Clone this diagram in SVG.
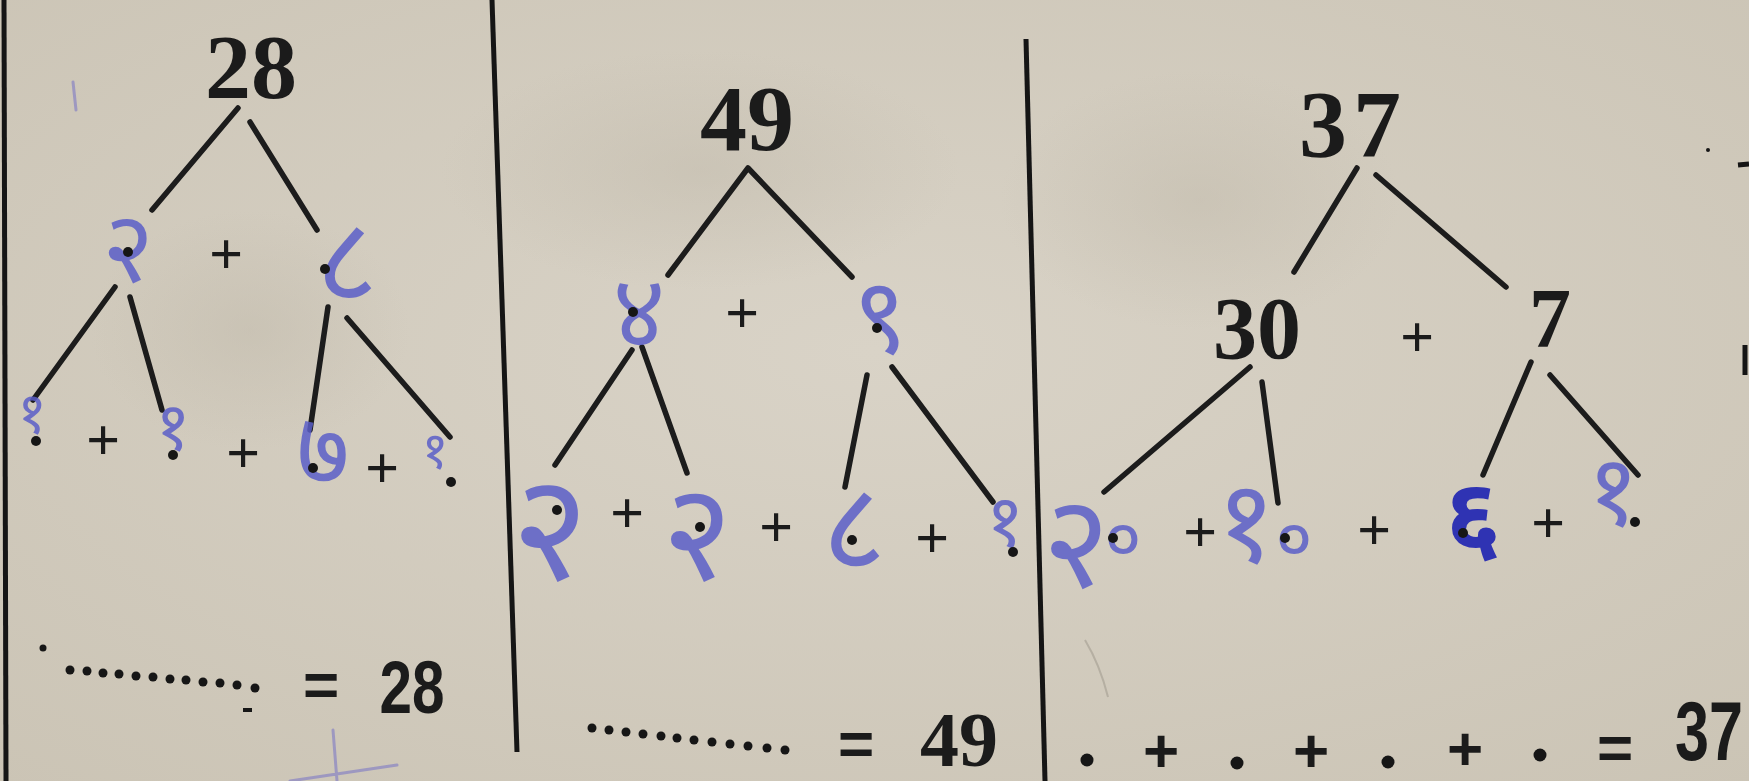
<svg xmlns="http://www.w3.org/2000/svg" width="1749" height="781" viewBox="0 0 1749 781">
<defs>
<radialGradient id="paper" cx="50%" cy="45%" r="75%">
<stop offset="0" stop-color="#d9d3c7"/>
<stop offset="1" stop-color="#cbc4b5"/>
</radialGradient>
<radialGradient id="blot" cx="50%" cy="50%" r="50%">
<stop offset="0" stop-color="#bfb8a9" stop-opacity="0.45"/>
<stop offset="1" stop-color="#bfb8a9" stop-opacity="0"/>
</radialGradient>
<style>
.num{font-family:"Liberation Serif","Times New Roman",serif;font-weight:bold;fill:#1b1b1b;text-anchor:middle}
.sans{font-family:"Liberation Sans",Arial,sans-serif;font-weight:bold;fill:#1b1b1b;text-anchor:middle}
.op{font-family:"Liberation Serif","Times New Roman",serif;font-weight:bold;fill:#1b1b1b;text-anchor:middle;font-size:60px}
.opb{font-family:"Liberation Sans",Arial,sans-serif;font-weight:bold;fill:#1b1b1b;text-anchor:middle;font-size:62px}
.hw{font-family:"Noto Sans Devanagari","Lohit Devanagari","Noto Sans",sans-serif;fill:#5a5ec8;text-anchor:middle;fill-opacity:0.85}
.hwd{fill:#2f33b3;fill-opacity:1;font-weight:bold}
.edge{stroke:#1c1c1c;stroke-width:5.5;stroke-linecap:round;stroke-linejoin:round;fill:none}
.rule{stroke:#151515;stroke-width:5;fill:none}
.dot{fill:#161616}
.stray{stroke:#7d78c4;stroke-width:3;stroke-linecap:round;fill:none;opacity:.6}
</style>
</defs>
<rect width="1749" height="781" fill="url(#paper)"/>
<ellipse cx="700" cy="170" rx="260" ry="120" fill="url(#blot)"/>
<ellipse cx="1200" cy="200" rx="200" ry="130" fill="url(#blot)"/>
<ellipse cx="250" cy="330" rx="160" ry="120" fill="url(#blot)"/>

<g id="rules">
<line class="rule" x1="4" y1="0" x2="6" y2="781"/>
<line class="rule" x1="492" y1="0" x2="517" y2="752"/>
<line class="rule" x1="1026" y1="39" x2="1045" y2="781"/>
<line class="rule" x1="1738" y1="165" x2="1749" y2="164" stroke-width="3"/>
<line class="rule" x1="1745" y1="345" x2="1745" y2="375" stroke-width="4"/>
<circle class="dot" cx="1708" cy="150" r="2"/>
</g>

<g id="connectors">
<line class="edge" x1="238" y1="108" x2="152" y2="210"/>
<line class="edge" x1="250" y1="122" x2="317" y2="230"/>
<line class="edge" x1="115" y1="287" x2="33" y2="400"/>
<line class="edge" x1="130" y1="297" x2="162" y2="410"/>
<line class="edge" x1="328" y1="307" x2="310" y2="430"/>
<line class="edge" x1="347" y1="318" x2="450" y2="437"/>

<polyline class="edge" points="668,275 748,168 852,277"/>
<line class="edge" x1="632" y1="350" x2="555" y2="465"/>
<line class="edge" x1="642" y1="347" x2="687" y2="473"/>
<line class="edge" x1="867" y1="375" x2="845" y2="487"/>
<line class="edge" x1="892" y1="367" x2="993" y2="502"/>

<line class="edge" x1="1357" y1="168" x2="1294" y2="272"/>
<line class="edge" x1="1376" y1="175" x2="1506" y2="287"/>
<line class="edge" x1="1250" y1="367" x2="1104" y2="492"/>
<line class="edge" x1="1262" y1="382" x2="1278" y2="503"/>
<line class="edge" x1="1531" y1="362" x2="1483" y2="475"/>
<line class="edge" x1="1550" y1="375" x2="1638" y2="475"/>
</g>

<!-- Panel 1 -->
<g id="p1-root"><text class="num" x="251" y="98" font-size="92">28</text></g>
<g id="p1-a"><text class="hw" x="128" y="282" font-size="100">२</text><circle class="dot" cx="128" cy="252" r="5"/></g>
<g id="p1-plus1"><text class="op" x="226" y="274">+</text></g>
<g id="p1-b"><text class="hw" x="347" y="302" font-size="119">८</text><circle class="dot" cx="325" cy="269" r="5"/></g>
<g id="p1-c"><text class="hw" x="32" y="433" font-size="57">१</text><circle class="dot" cx="36" cy="441" r="5"/></g>
<g id="p1-plus2"><text class="op" x="103" y="460">+</text></g>
<g id="p1-d"><text class="hw" x="173" y="450" font-size="68">१</text><circle class="dot" cx="173" cy="455" r="5"/></g>
<g id="p1-plus3"><text class="op" x="243" y="473">+</text></g>
<g id="p1-e"><text class="hw" x="323" y="485" font-size="103">७</text><circle class="dot" cx="313" cy="468" r="5"/></g>
<g id="p1-plus4"><text class="op" x="382" y="488">+</text></g>
<g id="p1-f"><text class="hw" x="435" y="468" font-size="52">१</text><circle class="dot" cx="451" cy="482" r="5"/></g>
<g id="p1-sum">
<circle class="dot" cx="43" cy="648" r="3.5"/>
<circle class="dot" cx="70" cy="670" r="4.5"/><circle class="dot" cx="87" cy="671" r="4.5"/><circle class="dot" cx="103" cy="673" r="4.5"/><circle class="dot" cx="119" cy="674" r="4.5"/><circle class="dot" cx="136" cy="676" r="4.5"/><circle class="dot" cx="153" cy="677" r="4.5"/><circle class="dot" cx="170" cy="679" r="4.5"/><circle class="dot" cx="186" cy="680" r="4.5"/><circle class="dot" cx="203" cy="682" r="4.5"/><circle class="dot" cx="220" cy="683" r="4.5"/><circle class="dot" cx="237" cy="685" r="4.5"/><circle class="dot" cx="255" cy="688" r="4.5"/>
<rect x="243" y="708" width="9" height="4" fill="#161616"/>
<text class="opb" x="321" y="706">=</text>
<text class="sans" x="412" y="713" font-size="74" textLength="65" lengthAdjust="spacingAndGlyphs">28</text>
</g>
<path class="stray" d="M73 82 L76 110"/>
<path class="stray" d="M333 730 L337 781 M290 781 L397 765"/>

<!-- Panel 2 -->
<g id="p2-root"><text class="num" x="747" y="150" font-size="94">49</text></g>
<g id="p2-a"><text class="hw" x="639" y="347" font-size="102">४</text><circle class="dot" cx="633" cy="312" r="5"/></g>
<g id="p2-plus1"><text class="op" x="742" y="333">+</text></g>
<g id="p2-b"><text class="hw" x="880" y="353" font-size="106">९</text><circle class="dot" cx="877" cy="328" r="5"/></g>
<g id="p2-c"><text class="hw" x="550" y="580" font-size="150">२</text><circle class="dot" cx="557" cy="510" r="5"/></g>
<g id="p2-plus2"><text class="op" x="627" y="533">+</text></g>
<g id="p2-d"><text class="hw" x="697" y="580" font-size="136">२</text><circle class="dot" cx="700" cy="527" r="5"/></g>
<g id="p2-plus3"><text class="op" x="776" y="547">+</text></g>
<g id="p2-e"><text class="hw" x="854" y="570" font-size="124">८</text><circle class="dot" cx="852" cy="540" r="5"/></g>
<g id="p2-plus4"><text class="op" x="932" y="558">+</text></g>
<g id="p2-f"><text class="hw" x="1005" y="547" font-size="74">१</text><circle class="dot" cx="1013" cy="552" r="5"/></g>
<g id="p2-sum">
<circle class="dot" cx="592" cy="728" r="4.5"/><circle class="dot" cx="609" cy="730" r="4.5"/><circle class="dot" cx="626" cy="732" r="4.5"/><circle class="dot" cx="643" cy="734" r="4.5"/><circle class="dot" cx="661" cy="736" r="4.5"/><circle class="dot" cx="677" cy="738" r="4.5"/><circle class="dot" cx="694" cy="740" r="4.5"/><circle class="dot" cx="712" cy="742" r="4.5"/><circle class="dot" cx="730" cy="744" r="4.5"/><circle class="dot" cx="748" cy="746" r="4.5"/><circle class="dot" cx="767" cy="748" r="4.5"/><circle class="dot" cx="785" cy="750" r="4.5"/>
<text class="opb" x="856" y="765">=</text>
<text class="num" x="959" y="766" font-size="78">49</text>
</g>

<!-- Panel 3 -->
<g id="p3-root"><text class="num" x="1353" y="157" font-size="96" letter-spacing="6">37</text></g>
<g id="p3-a"><text class="num" x="1257" y="358" font-size="88">30</text></g>
<g id="p3-plus1"><text class="op" x="1417" y="357">+</text></g>
<g id="p3-b"><text class="num" x="1550" y="347" font-size="84">7</text></g>
<g id="p3-c"><text class="hw"><tspan x="1076" y="587" font-size="130">२</tspan><tspan x="1123" y="563" font-size="72">०</tspan></text><circle class="dot" cx="1113" cy="538" r="5"/></g>
<g id="p3-plus2"><text class="op" x="1200" y="552">+</text></g>
<g id="p3-d"><text class="hw"><tspan x="1246" y="562" font-size="115">१</tspan><tspan x="1294" y="563" font-size="72">०</tspan></text><circle class="dot" cx="1285" cy="538" r="5"/></g>
<g id="p3-plus3"><text class="op" x="1374" y="550">+</text></g>
<g id="p3-e"><text class="hw hwd" x="1473" y="551" font-size="101">६</text><circle class="dot" cx="1463" cy="533" r="5"/></g>
<g id="p3-plus4"><text class="op" x="1548" y="543">+</text></g>
<g id="p3-f"><text class="hw" x="1613" y="525" font-size="100">१</text><circle class="dot" cx="1635" cy="522" r="5"/></g>
<g id="p3-sum">
<circle class="dot" cx="1087" cy="760" r="6.5"/>
<text class="opb" x="1161" y="772">+</text>
<circle class="dot" cx="1237" cy="763" r="6.5"/>
<text class="opb" x="1311" y="772">+</text>
<circle class="dot" cx="1388" cy="762" r="6.5"/>
<text class="opb" x="1465" y="770">+</text>
<circle class="dot" cx="1540" cy="755" r="6.5"/>
<text class="opb" x="1615" y="769" font-size="70">=</text>
<text class="sans" x="1709" y="760" font-size="84" textLength="68" lengthAdjust="spacingAndGlyphs">37</text>
</g>
<path d="M1085 640 Q1100 665 1108 697" stroke="#9a9488" stroke-width="2" fill="none" opacity="0.5"/>
</svg>
